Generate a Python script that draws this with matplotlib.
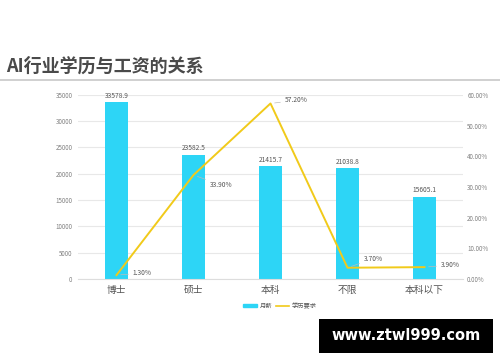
import matplotlib.pyplot as plt
import matplotlib.lines as mlines
import matplotlib.patches as mpatches

plt.rcParams['font.family'] = ['Noto Sans CJK SC', 'DejaVu Sans']

# data
categories = ["博士", "硕士", "本科", "不限", "本科以下"]
salary = [33578.9, 23582.5, 21415.7, 21038.8, 15605.1]
edu_share = [1.3, 33.9, 57.2, 3.7, 3.9]          # percent
label_offsets = [(16, 2), (16, -10), (14, 3), (16, 9), (16, 2)]   # pixels

BAR_COLOR = "#2dd5f6"
LINE_COLOR = "#f1ca1a"
TICK_COLOR = "#808080"

fig = plt.figure(figsize=(5, 3.62), dpi=100)
fig.patch.set_facecolor("white")

# title + underline
fig.text(0.012, 0.818, "AI行业学历与工资的关系", fontsize=13, fontweight="bold",
         color="#4a4a4a", va="center", ha="left")
fig.add_artist(mlines.Line2D([0, 1], [0.778, 0.778], color="#c8c8c8", lw=1.2))

ax = fig.add_axes([0.156, 0.229, 0.77, 0.509])
x = list(range(len(categories)))
bars = ax.bar(x, salary, width=0.31, color=BAR_COLOR, zorder=2)
ax.set_ylim(0, 35000)
ax.set_yticks(range(0, 35001, 5000))
ax.set_yticklabels([str(v) for v in range(0, 35001, 5000)])
ax.set_xlim(-0.5, len(categories) - 0.5)
ax.set_xticks(x)
ax.set_xticklabels(categories, fontsize=7, color="#555555")
ax.grid(axis="y", color="#e8e8e8", lw=0.8, zorder=0)
ax.tick_params(axis="y", labelsize=4.5, colors=TICK_COLOR, length=0, pad=4)
ax.tick_params(axis="x", length=0, pad=4)
for s in ["top", "right", "left"]:
    ax.spines[s].set_visible(False)
ax.spines["bottom"].set_color("#dddddd")

for b, v in zip(bars, salary):
    ax.text(b.get_x() + b.get_width() / 2, v + 500, f"{v:.1f}", ha="center", va="bottom",
            fontsize=4.8, color="#555555")

ax2 = ax.twinx()
ax2.plot(x, edu_share, color=LINE_COLOR, lw=1.4, zorder=3)
ax2.set_ylim(0, 60)
ax2.set_yticks(range(0, 61, 10))
ax2.set_yticklabels([f"{v:.2f}%" for v in range(0, 61, 10)])
ax2.tick_params(axis="y", labelsize=4.5, colors=TICK_COLOR, length=0, pad=3)
for s in ["top", "right", "left", "bottom"]:
    ax2.spines[s].set_visible(False)

for xi, v, off in zip(x, edu_share, label_offsets):
    ax2.annotate(f"{v:.2f}%", xy=(xi, v), xytext=off, textcoords="offset pixels",
                 fontsize=4.8, color="#555555", va="center", ha="left",
                 arrowprops=dict(arrowstyle="-", color="#bbbbbb", lw=0.5,
                                 shrinkA=1, shrinkB=3))

handles = [mpatches.Patch(color=BAR_COLOR, label="月薪"),
           mlines.Line2D([], [], color=LINE_COLOR, lw=1.2, label="学历要求")]
fig.legend(handles=handles, loc="center", bbox_to_anchor=(0.56, 0.155), ncol=2,
           frameon=False, fontsize=4.5, handlelength=2.2, handleheight=0.5,
           columnspacing=0.6, handletextpad=0.4, labelcolor="#555555")

# watermark box
fig.add_artist(mpatches.Rectangle((0.638, 0.025), 0.348, 0.094, facecolor="black",
                                  edgecolor="none", transform=fig.transFigure))
fig.text(0.812, 0.072, "www.ztwl999.com", fontsize=10.5, fontweight="bold", color="white",
         ha="center", va="center", family="DejaVu Sans")

fig.savefig("out.png", dpi=100)
